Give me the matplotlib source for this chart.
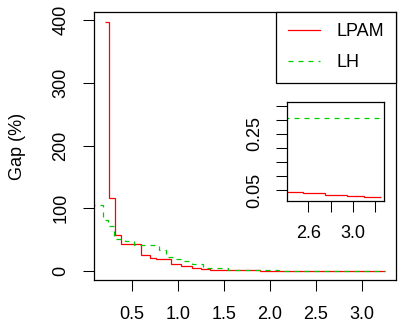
import matplotlib
matplotlib.use("Agg")
import matplotlib.pyplot as plt

plt.rcParams['font.family'] = ['Liberation Sans', 'DejaVu Sans']
plt.rcParams['lines.scale_dashes'] = False

# ---- data ----
lpam_edges = [0.21, 0.257, 0.313, 0.385, 0.60, 0.70, 0.76, 0.93, 1.04, 1.15, 1.25,
              1.35, 1.49, 1.9, 2.4, 2.55, 2.75, 2.95, 3.10, 3.25]
lpam_gap = [397, 116, 58, 43.5, 26, 21, 18.6, 10.6, 8, 5.5, 3.2,
            1.8, 1.0, 0.5, 0.042, 0.038, 0.033, 0.030, 0.027]

lh_edges = [0.05, 0.19, 0.245, 0.31, 0.43, 0.53, 0.80, 0.875, 0.95, 1.05, 1.15,
            1.27, 1.40, 1.55, 1.8, 2.1, 2.4, 3.25]
lh_gap = [105, 81, 72, 51, 48, 42, 33, 23, 19, 16, 11,
          5.5, 4.3, 2, 1.2, 0.6, 0.306]

series_labels = ["LPAM", "LH"]
y_label = "Gap (%)"
main_xticks = [0.5, 1.0, 1.5, 2.0, 2.5, 3.0]
main_yticks = [0, 100, 200, 300, 400]
inset_xticks = [2.6, 2.8, 3.0, 3.2]
inset_xlabels = ["2.6", "", "3.0", ""]
inset_yticks = [0.05, 0.10, 0.15, 0.20, 0.25, 0.30, 0.35]
inset_ylabels = ["0.05", "", "", "", "0.25", "", ""]

RED = "#FF0000"
GREEN = "#00CD00"
FS = 13
W, H = 404, 326

fig = plt.figure(figsize=(W / 100, H / 100), dpi=100)

def frac(x0, y0, x1, y1):
    return [x0 / W, 1 - y1 / H, (x1 - x0) / W, (y1 - y0) / H]

ax = fig.add_axes(frac(94.3, 11.7, 395.7, 280))
ax.stairs(lpam_gap, lpam_edges, baseline=None, color=RED, lw=0.9, label=series_labels[0])
ax.stairs(lh_gap, lh_edges, baseline=None, color=GREEN, lw=0.9,
          linestyle=(0, (3.6, 3.6)), label=series_labels[1])
ax.set_xlim(0.093, 3.37)
ax.set_ylim(-14.3, 413.2)
ax.set_xticks(main_xticks)
ax.set_xticklabels([f"{v:.1f}" for v in main_xticks])
ax.set_yticks(main_yticks)
ax.set_yticklabels([str(v) for v in main_yticks], rotation=90, va='center')
ax.tick_params(direction='out', length=8, width=0.75, labelsize=FS, pad=11)
ax.tick_params(axis='y', pad=10)
for s in ax.spines.values():
    s.set_linewidth(0.9)
fig.text(17.5 / W, 1 - 146 / H, y_label, rotation=90, ha='center', va='center', fontsize=FS)

leg = ax.legend(loc='upper right', bbox_to_anchor=(1, 1), borderaxespad=0, fontsize=FS,
                frameon=True, fancybox=False, framealpha=1, edgecolor='black',
                handlelength=1.8, handletextpad=0.9, borderpad=0.65, labelspacing=0.75)
leg.get_frame().set_linewidth(0.9)

axi = fig.add_axes(frac(286.7, 102.3, 384.3, 201))
axi.stairs(lpam_gap, lpam_edges, baseline=None, color=RED, lw=0.9)
axi.stairs(lh_gap, lh_edges, baseline=None, color=GREEN, lw=0.9, linestyle=(0, (3.6, 3.6)))
axi.set_xlim(2.406, 3.28)
axi.set_ylim(0.011, 0.363)
axi.set_xticks(inset_xticks)
axi.set_xticklabels(inset_xlabels)
axi.set_yticks(inset_yticks)
axi.set_yticklabels(inset_ylabels, rotation=90, va='center')
axi.tick_params(direction='out', length=8, width=0.75, labelsize=FS, pad=9)
for s in axi.spines.values():
    s.set_linewidth(0.9)

fig.savefig("out.png", dpi=100)
